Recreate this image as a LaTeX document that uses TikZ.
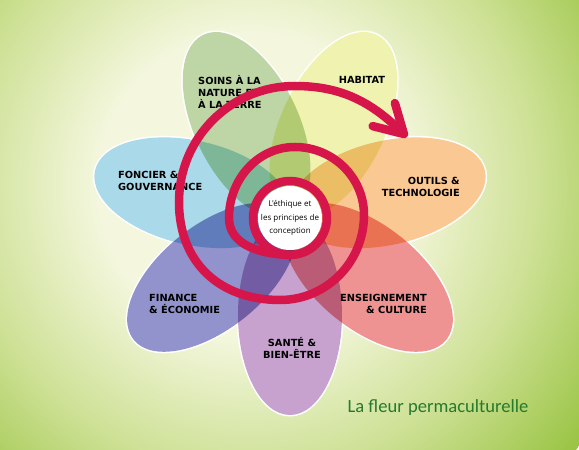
\documentclass[tikz,border=0pt]{standalone}
\usepackage{fontspec}
\setmainfont{Carlito}
\newfontfamily\petalfont{DejaVu Sans}
\newfontfamily\heartfont{Open Sans}
\usetikzlibrary{arrows.meta}
\definecolor{meadowpale}{RGB}{244,247,222}
\definecolor{meadowmid}{RGB}{206,225,150}
\definecolor{meadowgreen}{RGB}{146,192,56}
\definecolor{soinscol}{RGB}{190,214,166}
\definecolor{habitatcol}{RGB}{240,242,176}
\definecolor{outilscol}{RGB}{250,200,146}
\definecolor{enseicol}{RGB}{238,146,146}
\definecolor{santecol}{RGB}{200,162,206}
\definecolor{financecol}{RGB}{146,146,204}
\definecolor{fonciercol}{RGB}{170,218,234}
\definecolor{spiralred}{RGB}{214,22,74}
\definecolor{titlegreen}{RGB}{38,122,46}
\pgfdeclareradialshading{meadow}{\pgfpoint{0bp}{0bp}}{color(0bp)=(meadowpale); color(9bp)=(meadowpale); color(17bp)=(meadowmid); color(26bp)=(meadowgreen); color(50bp)=(meadowgreen)}

\begin{document}
\begin{tikzpicture}[x=1pt, y=1pt,
    rim/.style={fill=white, draw=white, line width=3pt},
    petal/.style={blend mode=multiply},
    spiral/.style={draw=spiralred, line width=8.5pt, line cap=round},
    petaltext/.style={font=\petalfont\bfseries\fontsize{9.8}{12}\selectfont, text=black, inner sep=0pt}]
    % Background
    \useasboundingbox (-290,-235) rectangle (289,215);
    \begin{scope}
        \clip (-290,-235) rectangle (289,215);
        \shade[shading=meadow] (-40,30) circle (420);
    \end{scope}

    % Petals: white rims first, then the colours multiplied over them
    \foreach \ang in {-90,-38.57,12.86,64.29,115.71,167.14,218.57}
        \filldraw[rim, rotate=\ang] (100,0) ellipse [x radius=100, y radius=52];
    \foreach \ang/\col in {-90/santecol, -38.57/enseicol, 12.86/outilscol, 64.29/habitatcol,
                           115.71/soinscol, 167.14/fonciercol, 218.57/financecol}
        \fill[petal, fill=\col, rotate=\ang] (100,0) ellipse [x radius=100, y radius=52];

    % Petal labels
    \node[petaltext, anchor=west, align=left] (soins) at (-92,123) {SOINS À LA\\NATURE ET\\À LA TERRE};
    \node[petaltext] (habitat) at (72,135) {HABITAT};
    \node[petaltext, anchor=east, align=right] (outils) at (170,28) {OUTILS \&\\TECHNOLOGIE};
    \node[petaltext, anchor=east, align=right] (enseignement) at (137,-89) {ENSEIGNEMENT\\\& CULTURE};
    \node[petaltext, align=center] (sante) at (2,-133) {SANTÉ \&\\BIEN-ÊTRE};
    \node[petaltext, anchor=west, align=left] (finance) at (-141,-89) {FINANCE\\\& ÉCONOMIE};
    \node[petaltext, anchor=west, align=left] (foncier) at (-172,34) {FONCIER \&\\GOUVERNANCE};

    % Heart of the flower
    \coordinate (hub) at (0,-3);
    \node[circle, fill=white, minimum size=64pt, inner sep=0pt] (core) at (hub) {};
    \node[font=\heartfont\fontsize{8}{13.5}\selectfont, align=center, inner sep=0pt] (ethique) at (hub)
        {L'éthique et\\les principes de\\conception};

    % Spiral
    \draw[spiral] (hub) circle (37);
    \draw[spiral, -{Straight Barb[length=28pt, width=32pt, round]}]
        ([shift={(268:37)}]hub) to[out=178, in=270] (-61,-3)
        to[out=90, in=180] (5,68) to[out=0, in=90] (74,0)
        to[out=-90, in=0] (-10,-85) to[out=180, in=-90, looseness=1.1] (-111,13)
        to[out=90, in=180] (5,129) to[out=0, in=136] (117,78);

    % Title
    \node[font=\fontsize{18.6}{20}\selectfont, text=titlegreen] (caption) at (148,-193) {La fleur permaculturelle};
\end{tikzpicture}
\end{document}
